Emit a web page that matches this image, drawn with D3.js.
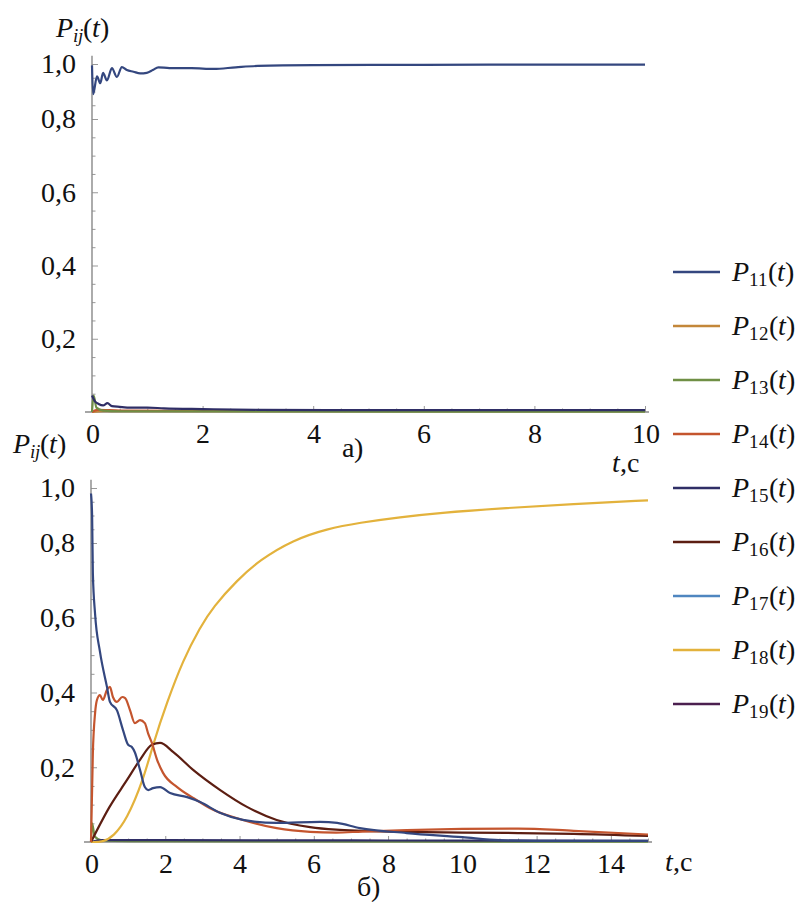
<!DOCTYPE html>
<html>
<head>
<meta charset="utf-8">
<script src="https://cdn.jsdelivr.net/npm/d3@7"></script>
<style>
  @font-face { font-family: "ChartSerif"; font-style: normal; src: local("Liberation Serif"), local("LiberationSerif"), local("Liberation Serif Regular"), local("LiberationSerif-Regular"); }
  @font-face { font-family: "ChartSerif"; font-style: italic; src: local("Liberation Serif Italic"), local("LiberationSerif-Italic"); }
  body { margin: 0; background: #fff; }
  svg { display: block; }
  .lbl { font-family: "ChartSerif", "Liberation Serif", serif; fill: #111; }
  .it { font-style: italic; }
</style>
</head>
<body>
<div class="container"></div>
<script>
// --- data ---
const legendNames = ["11", "12", "13", "14", "15", "16", "17", "18", "19"]
const legendColors = ["#34477f", "#c3873a", "#6f8f45", "#c4552e", "#2f2e66", "#5c1e12", "#4f86c0", "#e3b23c", "#4b1f4f"]

const xTicksA = [0, 2, 4, 6, 8, 10]
const xTicksB = [0, 2, 4, 6, 8, 10, 12, 14]
const yTicks = [0.2, 0.4, 0.6, 0.8, 1.0]

// panel a)
const tA11 = [0, 0.02, 0.09, 0.15, 0.2, 0.27, 0.36, 0.45, 0.54, 0.63, 0.75, 0.87, 0.99, 1.1, 1.2, 1.4, 1.8, 2.2, 2.6, 3.0, 4, 6, 8, 10]
const pA11 = [0.995, 0.89, 0.955, 0.93, 0.968, 0.94, 0.985, 0.953, 0.989, 0.978, 0.972, 0.966, 0.968, 0.978, 0.988, 0.985, 0.985, 0.982, 0.988, 0.993, 0.996, 0.997, 0.998, 0.998]
const tA15 = [0, 0.05, 0.12, 0.2, 0.28, 0.36, 0.5, 0.7, 1.0, 1.3, 2, 3, 5, 10]
const pA15 = [0.045, 0.03, 0.022, 0.018, 0.024, 0.016, 0.014, 0.012, 0.012, 0.01, 0.008, 0.006, 0.005, 0.005]
const tA13 = [0, 0.03, 0.08, 0.2, 0.5, 10]
const pA13 = [0, 0.045, 0.012, 0.004, 0.002, 0.001]
const tA14 = [0, 0.1, 0.5, 2, 10]
const pA14 = [0, 0.006, 0.004, 0.003, 0.003]
const tA12 = [0, 0.2, 1, 10]
const pA12 = [0, 0.002, 0.002, 0.002]

// panel б)
const tB11 = [0, 0.03, 0.05, 0.11, 0.24, 0.43, 0.51, 0.7, 0.86, 1.0, 1.1, 1.18, 1.32, 1.45, 1.54, 1.67, 1.86, 2.13, 2.59, 2.94, 3.47, 4.09, 5.0, 6.17, 6.63, 7.24, 8.5, 10.0, 11.0, 12, 15]
const pB11 = [0.98, 0.9, 0.72, 0.61, 0.51, 0.415, 0.375, 0.352, 0.30, 0.26, 0.254, 0.24, 0.193, 0.147, 0.139, 0.144, 0.147, 0.131, 0.12, 0.107, 0.078, 0.059, 0.051, 0.054, 0.051, 0.037, 0.024, 0.013, 0.005, 0.003, 0.003]
const tB14 = [0, 0.05, 0.11, 0.16, 0.24, 0.32, 0.43, 0.51, 0.59, 0.7, 0.84, 0.92, 1.05, 1.18, 1.32, 1.45, 1.54, 1.64, 1.78, 1.94, 2.32, 2.75, 3.29, 4.09, 5.0, 5.9, 6.6, 7.3, 8.5, 10, 11.5, 13, 15]
const pB14 = [0, 0.238, 0.345, 0.38, 0.393, 0.38, 0.407, 0.415, 0.388, 0.375, 0.388, 0.385, 0.353, 0.318, 0.326, 0.318, 0.29, 0.265, 0.22, 0.185, 0.147, 0.118, 0.086, 0.059, 0.037, 0.027, 0.025, 0.028, 0.032, 0.035, 0.036, 0.03, 0.02]
const tB16 = [0, 0.5, 0.97, 1.32, 1.64, 1.86, 2.21, 2.75, 3.48, 4.2, 5.0, 5.9, 6.6, 7.3, 8.5, 10, 11.5, 13, 15]
const pB16 = [0, 0.094, 0.166, 0.22, 0.26, 0.265, 0.241, 0.193, 0.139, 0.094, 0.059, 0.04, 0.033, 0.03, 0.027, 0.025, 0.024, 0.022, 0.016]
const tB18 = [0, 0.33, 0.6, 0.96, 1.41, 1.68, 2.04, 2.48, 2.94, 3.29, 3.93, 4.55, 5.44, 6.36, 7.24, 8.3, 9.5, 11, 13, 15]
const pB18 = [0, 0, 0.015, 0.059, 0.166, 0.265, 0.372, 0.487, 0.575, 0.629, 0.70, 0.755, 0.811, 0.852, 0.874, 0.894, 0.911, 0.926, 0.942, 0.955]
const tB13 = [0, 0.03, 0.1, 0.3, 1, 15]
const pB13 = [0, 0.05, 0.015, 0.004, 0.002, 0.001]
const tB15 = [0, 0.3, 2, 8, 15]
const pB15 = [0, 0.005, 0.005, 0.004, 0.003]

const seriesA = [
  { t: tA12, p: pA12, c: legendColors[1] },
  { t: tA14, p: pA14, c: legendColors[3] },
  { t: tA13, p: pA13, c: legendColors[2] },
  { t: tA15, p: pA15, c: legendColors[4] },
  { t: tA11, p: pA11, c: legendColors[0] }
]
const seriesB = [
  { t: tB13, p: pB13, c: legendColors[2] },
  { t: tB15, p: pB15, c: legendColors[4] },
  { t: tB18, p: pB18, c: legendColors[7], smooth: true },
  { t: tB16, p: pB16, c: legendColors[5] },
  { t: tB14, p: pB14, c: legendColors[3] },
  { t: tB11, p: pB11, c: legendColors[0] }
]

const w = 803
const h = 902

const svg = d3.select(".container")
  .append("svg")
  .attr("width", w)
  .attr("height", h)

const fmt = d => d3.format(".1f")(d).replace(".", ",")

const drawPanel = (x, y, xTicks, xMax, series) => {
  const g = svg.append("g")
  const [x0] = x.range()
  const y0 = y(0)

  // minor ticks
  const xMinor = d3.range(0, xMax + 0.001, 0.5).filter(v => v % 2 !== 0)
  const yMinor = d3.range(0.05, 1.001, 0.05).filter(v => Math.abs(v * 5 - Math.round(v * 5)) > 1e-6)

  g.append("g")
    .attr("transform", `translate(0,${y0})`)
    .call(d3.axisBottom(x).tickValues(xMinor).tickSizeInner(-3.5).tickSizeOuter(0).tickFormat(""))
    .call(a => a.select(".domain").remove())
  g.append("g")
    .attr("transform", `translate(${x0},0)`)
    .call(d3.axisLeft(y).tickValues(yMinor).tickSizeInner(-3.5).tickSizeOuter(0).tickFormat(""))
    .call(a => a.select(".domain").remove())

  g.append("g")
    .attr("transform", `translate(0,${y0})`)
    .call(d3.axisBottom(x).tickValues(xTicks).tickSizeInner(-6).tickSizeOuter(0).tickPadding(11).tickFormat(d3.format("d")))
    .call(a => a.select(".domain").remove())
  g.append("g")
    .attr("transform", `translate(${x0},0)`)
    .call(d3.axisLeft(y).tickValues(yTicks).tickSizeInner(-6).tickSizeOuter(0).tickPadding(16).tickFormat(fmt))
    .call(a => a.select(".domain").remove())

  g.selectAll("g").attr("font-family", null).attr("font-size", null)
  g.selectAll(".tick text")
    .attr("class", "lbl")
    .style("font-size", "28px")
  g.selectAll(".tick line").attr("stroke", "#999")

  // axis lines
  g.append("line")
    .attr("x1", x0 - 7).attr("x2", x(xMax) + 4)
    .attr("y1", y0).attr("y2", y0)
    .attr("stroke", "#888").attr("stroke-width", 1.4)
  g.append("line")
    .attr("x1", x0).attr("x2", x0)
    .attr("y1", y0).attr("y2", y(1.03))
    .attr("stroke", "#888").attr("stroke-width", 1.4)

  const line = d3.line()
    .x(d => x(d[0]))
    .y(d => y(d[1]))
    .curve(d3.curveMonotoneX)
  const smoothLine = d3.line()
    .x(d => x(d[0]))
    .y(d => y(d[1]))
    .curve(d3.curveBasis)

  g.selectAll(".series")
    .data(series)
    .enter()
    .append("path")
    .attr("class", "series")
    .attr("fill", "none")
    .attr("stroke", d => d.c)
    .attr("stroke-width", 2.2)
    .attr("stroke-linejoin", "round")
    .attr("d", d => (d.smooth ? smoothLine : line)(d.t.map((t, i) => [t, d.p[i]])))
}

const xA = d3.scaleLinear().domain([0, 10]).range([92, 645])
const yA = d3.scaleLinear().domain([0, 0.8, 1]).range([412, 119, 64])
const xB = d3.scaleLinear().domain([0, 15]).range([91, 648])
const yB = d3.scaleLinear().domain([0, 0.8, 1]).range([842, 543, 488])

drawPanel(xA, yA, xTicksA, 10, seriesA)
drawPanel(xB, yB, xTicksB, 15, seriesB)

const addText = (x, y) => svg.append("text")
  .attr("class", "lbl")
  .attr("x", x).attr("y", y)
  .style("font-size", "28px")

// axis titles P_ij(t)
const pij = (x, y) => {
  const t = addText(x, y)
  t.append("tspan").attr("class", "it").text("P")
  t.append("tspan").attr("class", "it").style("font-size", "19px").attr("dy", 5).text("ij")
  t.append("tspan").attr("dy", -5).text("(")
  t.append("tspan").attr("class", "it").text("t")
  t.append("tspan").text(")")
}
pij(56, 37)
pij(13, 453)

const tc = (x, y) => {
  const t = addText(x, y)
  t.append("tspan").attr("class", "it").text("t")
  t.append("tspan").text(",c")
}
tc(612, 472)
tc(665, 871)

addText(352, 457).attr("text-anchor", "middle").text("а)")
addText(368, 896).attr("text-anchor", "middle").text("б)")

// legend
const legendItem = svg.selectAll(".legend-item")
  .data(legendNames)
  .enter()
  .append("g")
  .attr("class", "legend-item")
  .attr("transform", (d, i) => `translate(673,${272 + i * 54})`)

legendItem.append("line")
  .attr("x1", 0).attr("x2", 47)
  .attr("stroke", (d, i) => legendColors[i])
  .attr("stroke-width", 2.5)

const lt = legendItem.append("text")
  .attr("class", "lbl")
  .attr("x", 59)
  .attr("y", 9)
  .style("font-size", "28px")
lt.append("tspan").attr("class", "it").text("P")
lt.append("tspan").style("font-size", "19px").attr("dy", 5).text(d => d)
lt.append("tspan").attr("dy", -5).text("(")
lt.append("tspan").attr("class", "it").text("t")
lt.append("tspan").text(")")
</script>
</body>
</html>
